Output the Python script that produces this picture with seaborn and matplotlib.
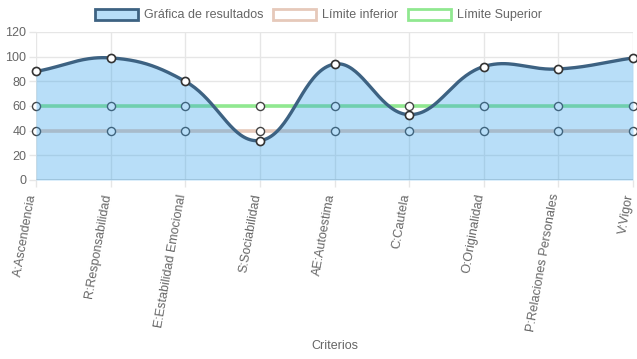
import numpy as np
import pandas as pd
import seaborn as sns
import matplotlib.pyplot as plt
import matplotlib.transforms as mtransforms
from matplotlib.patches import Patch

criterios = ["A:Ascendencia", "R:Responsabilidad", "E:Estabilidad Emocional",
             "S:Sociabilidad", "AE:Autoestima", "C:Cautela", "O:Originalidad",
             "P:Relaciones Personales", "V:Vigor"]
resultados = [88, 99, 80, 32, 94, 53, 92, 90, 99]
limite_inferior = [40, 40, 40, 40, 40, 40, 40, 40, 40]
limite_superior = [60, 60, 60, 60, 60, 60, 60, 60, 60]

sns.set_theme(style="white")
plt.rcParams['font.family'] = ['Liberation Sans', 'DejaVu Sans']

fig = plt.figure(figsize=(6.37, 3.59), dpi=100)
ax = fig.add_axes([36 / 637, 1 - 180 / 359, 597 / 637, 148 / 359])

x = np.arange(len(criterios))
px_per_x = 597 / (len(criterios) - 1)
px_per_y = 148 / 120


def spline(xs, ys, tension=0.4, n=40):
    # chart.js style bezier, control points computed in pixel space
    P = np.column_stack([np.asarray(xs, float) * px_per_x, np.asarray(ys, float) * px_per_y])
    out = []
    for i in range(len(P) - 1):
        segs = []
        for j in (i, i + 1):
            prev = P[max(j - 1, 0)]
            nxt = P[min(j + 1, len(P) - 1)]
            d01 = np.hypot(*(P[j] - prev))
            d12 = np.hypot(*(nxt - P[j]))
            tot = d01 + d12
            s01 = d01 / tot if tot else 0
            s12 = d12 / tot if tot else 0
            segs.append((P[j] - tension * s01 * (nxt - prev), P[j] + tension * s12 * (nxt - prev)))
        p0, p3 = P[i], P[i + 1]
        c1, c2 = segs[0][1], segs[1][0]
        t = np.linspace(0, 1, n)[:, None]
        b = (1 - t) ** 3 * p0 + 3 * (1 - t) ** 2 * t * c1 + 3 * (1 - t) * t ** 2 * c2 + t ** 3 * p3
        out.append(b if i == 0 else b[1:])
    b = np.vstack(out)
    return b[:, 0] / px_per_x, b[:, 1] / px_per_y


grid_c = "#e6e6e6"
for v in range(20, 121, 20):
    ax.axhline(v, color=grid_c, lw=1, zorder=0)
for v in x:
    ax.axvline(v, color=grid_c, lw=1, zorder=0)
ax.axhline(0, color="#d4d4d4", lw=1.3, zorder=0)

low_c = "#e6c9ba"
up_c = "#90e890"
res_c = "#3d6282"

sns.lineplot(x=x, y=limite_inferior, ax=ax, color=low_c, lw=2.6, zorder=1)
sns.lineplot(x=x, y=limite_superior, ax=ax, color=up_c, lw=2.6, zorder=1)
for ys in (limite_inferior, limite_superior):
    sns.scatterplot(x=x, y=ys, ax=ax, s=34, color="white", edgecolor="#444444",
                    linewidth=1.0, zorder=1.5, clip_on=False)

cx, cy = spline(x, resultados)
curve = pd.DataFrame({"x": cx, "y": cy})
ax.fill_between(curve["x"], curve["y"], 0, color=(54 / 255, 162 / 255, 235 / 255), alpha=0.35,
                lw=0, zorder=2)
sns.lineplot(data=curve, x="x", y="y", ax=ax, color=res_c, lw=2.4, sort=False, zorder=3)
sns.scatterplot(x=x, y=resultados, ax=ax, s=34, color="white", edgecolor="#333333",
                linewidth=1.2, zorder=4, clip_on=False)

ax.set_xlim(0, len(criterios) - 1)
ax.set_ylim(0, 120)
ax.set_yticks(range(0, 121, 20))
ax.set_xticks(x)
ax.set_xticklabels(criterios, rotation=80, ha="right", va="center", rotation_mode="anchor")
ax.tick_params(axis="both", colors="#666666", labelsize=9, length=5, width=1, color=grid_c,
               pad=2, direction="out", left=True, bottom=True)
ax.tick_params(axis="x", pad=5)
# nudge rotated labels a little to the left so the last one stays inside
shift = mtransforms.ScaledTranslation(-3 / 100, 0, fig.dpi_scale_trans)
for lbl in ax.get_xticklabels():
    lbl.set_transform(lbl.get_transform() + shift)
for s in ax.spines.values():
    s.set_visible(False)
ax.set_xlabel("")
ax.set_ylabel("")
fig.text(335 / 637, 1 - 346 / 359, "Criterios", ha="center", va="center", fontsize=9,
         color="#666666")

handles = [
    Patch(facecolor=(54 / 255, 162 / 255, 235 / 255, 0.35), edgecolor=res_c, lw=2),
    Patch(facecolor="white", edgecolor=low_c, lw=2),
    Patch(facecolor="white", edgecolor=up_c, lw=2),
]
fig.legend(handles, ["Gráfica de resultados", "Límite inferior", "Límite Superior"],
           loc="center", bbox_to_anchor=(0.5, 1 - 15 / 359), ncol=3, frameon=False,
           fontsize=9, labelcolor="#666666", handlelength=3.4, handleheight=1.0,
           handletextpad=0.5, columnspacing=0.8, borderaxespad=0)

fig.savefig("out.png", dpi=100)
